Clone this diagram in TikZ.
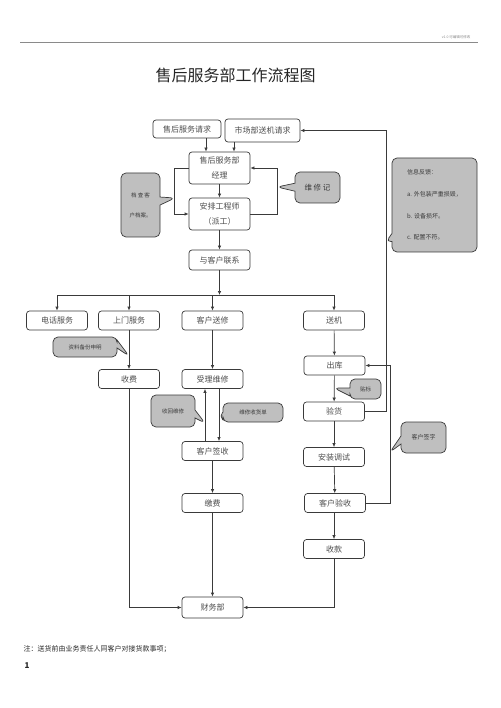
\documentclass[tikz,border=0pt]{standalone}
\usepackage{fontspec}
\newfontfamily\cjk{Noto Sans CJK SC}
\usetikzlibrary{arrows.meta, positioning, shapes.callouts}
\definecolor{cline}{HTML}{3A3A3A}
\definecolor{cbub}{HTML}{BFBFBF}
\definecolor{cgrey}{HTML}{8A8A8A}
\tikzset{
  every picture/.style={font=\cjk, line width=0.7pt},
  box/.style={draw=cline, text=black!70, rounded corners=3pt, align=center, inner sep=1pt,
    minimum width=61pt, minimum height=19pt, font=\cjk\fontsize{8}{14.5}\selectfont},
  bubble/.style={rectangle callout, draw=cline, fill=cbub, text=cline, rounded corners=5pt,
    align=center, inner sep=2pt, callout pointer width=8pt, font=\cjk\fontsize{6.5}{9}\selectfont},
  arrow/.style={-{Latex[length=4pt, width=3.5pt]}, draw=cline},
  title/.style={font=\cjk\fontsize{16}{18}\selectfont, text=black!85},
  note/.style={font=\cjk\fontsize{7}{8}\selectfont, text=black!85},
}

\begin{document}
\begin{tikzpicture}[x=1pt, y=-1pt]
  \useasboundingbox (0,0) rectangle (500,708);
  % page header
  \draw[cgrey, line width=1.2pt] (20,42.5) -- (478,42.5);
  \node[font=\cjk\fontsize{3.5}{4}\selectfont, text=cgrey, anchor=east] (ver) at (474,37) {v1.0 可编辑可修改};
  \node[title] (ttl) at (235.5,75) {售后服务部工作流程图};
  % top part
  \node[box, minimum width=68pt, minimum height=18pt] (req) at (187,129) {售后服务请求};
  \node[box, minimum width=75pt, minimum height=23pt] (mkt) at (262.5,130.5) {市场部送机请求};
  \node[box, minimum height=32pt] (mgr) at (219.5,168) {售后服务部\\经理};
  \node[box, minimum height=32pt] (eng) at (219.5,214) {安排工程师\\（派工）};
  \node[box, minimum height=20pt] (contact) at (219.5,260) {与客户联系};
  % second row
  \node[box] (phone) at (57,320.5) {电话服务};
  \node[box] (visit) at (129,320.5) {上门服务};
  \node[box] (repair) at (212.5,320.5) {客户送修};
  \node[box] (ship) at (334,320.5) {送机};
  \node[box] (fee) at (129,379) {收费};
  \node[box] (accept) at (212.5,379) {受理维修};
  \node[box] (out) at (334.5,365.5) {出库};
  \node[box] (check) at (334,411.5) {验货};
  \node[box] (install) at (334,457) {安装调试};
  \node[box] (cacc) at (335,503) {客户验收};
  \node[box] (collect) at (334,549) {收款};
  \node[box] (sign) at (212.5,451) {客户签收};
  \node[box] (pay) at (212.5,503) {缴费};
  \node[box, minimum height=21pt] (fin) at (212.5,607.5) {财务部};
  % callouts
  \node[bubble, minimum width=39pt, minimum height=64pt, font=\cjk\fontsize{5.5}{8}\selectfont,
    callout absolute pointer={(175,198)}] (bfile) at (140.5,205) {档\ 查\ 客\\[12pt]户档案。};
  \node[bubble, minimum width=45pt, minimum height=31pt, font=\cjk\fontsize{7.5}{9}\selectfont,
    callout absolute pointer={(277,187)}] (brec) at (317.5,187.5) {维\ 修\ 记};
  \node[bubble, minimum width=85pt, minimum height=94pt, align=left, font=\cjk\fontsize{6}{8}\selectfont,
    callout absolute pointer={(386,242)}] (binfo) at (434.5,205)
    {信息反馈：\\[14pt]a. 外包装严重损毁，\\[14pt]b. 设备损坏。\\[13pt]c. 配置不符。};
  \node[bubble, minimum width=64pt, minimum height=20pt, font=\cjk\fontsize{5.5}{7}\selectfont,
    callout absolute pointer={(129,356)}] (bdoc) at (85,347) {资料备份申明};
  \node[bubble, minimum width=44pt, minimum height=32pt, font=\cjk\fontsize{5.5}{7}\selectfont,
    callout absolute pointer={(205,423)}] (bback) at (173,411) {收回维修};
  \node[bubble, minimum width=60pt, minimum height=19pt, font=\cjk\fontsize{5.5}{7}\selectfont,
    callout absolute pointer={(219,416)}] (bslip) at (253,412.5) {维修收货单};
  \node[bubble, minimum width=31pt, minimum height=20pt, font=\cjk\fontsize{5.5}{7}\selectfont,
    callout absolute pointer={(334,388)}] (blabel) at (365.5,389) {贴标};
  \node[bubble, minimum width=45pt, minimum height=31pt, font=\cjk\fontsize{6}{7}\selectfont,
    callout absolute pointer={(390,452)}] (bsig) at (423.5,437.5) {客户签字};
  % connectors
  \draw[arrow] (req.south -| 206,0) -- (mgr.north -| 206,0);
  \draw[arrow] (mkt.south -| 234,0) -- (mgr.north -| 234,0);
  \draw[arrow] (mgr) -- (eng);
  \draw[arrow] (eng) -- (contact);
  \draw[arrow] (mgr.west) -- ++(-14,0) |- (eng.west);
  \draw[arrow] (eng.east) -- ++(27,0) |- (mgr.east);
  \coordinate (bus) at (219.5,295);
  \draw[arrow] (contact) -- (bus);
  \draw[cline] (phone.north |- bus) -- (ship.north |- bus);
  \foreach \n in {phone, visit, repair, ship}
    \draw[arrow] (\n.north |- bus) -- (\n.north);
  \draw[arrow] (visit) -- (fee);
  \draw[arrow] (repair) -- (accept);
  \draw[arrow] (ship) -- (out);
  \draw[arrow] (out) -- (check);
  \draw[arrow] (check) -- (install);
  \draw[arrow] (install) -- (cacc);
  \draw[arrow] (cacc.south -| collect) -- (collect);
  \draw[arrow] (accept.south -| 219,0) -- (sign.north -| 219,0);
  \draw[arrow] (sign.north -| 205,0) -- (accept.south -| 205,0);
  \draw[arrow] (sign) -- (pay);
  \draw[arrow] (pay) -- (fin);
  \draw[arrow] (fee.south) |- (fin.west);
  \draw[arrow] (collect.south) |- (fin.east);
  \coordinate (rl) at (386,0);
  \coordinate (rr) at (390,0);
  \draw[arrow] (check.east) -| (rl |- mkt.east) -- (mkt.east);
  \draw[arrow] (cacc.east) -| (rr |- out.east) -- (out.east);
  % footer
  \node[note, anchor=west] (note) at (20,649) {注：送货前由业务责任人同客户对接货款事项；};
  \node[note, font=\cjk\bfseries\fontsize{8}{9}\selectfont] (pg) at (27,666) {1};
\end{tikzpicture}
\end{document}
